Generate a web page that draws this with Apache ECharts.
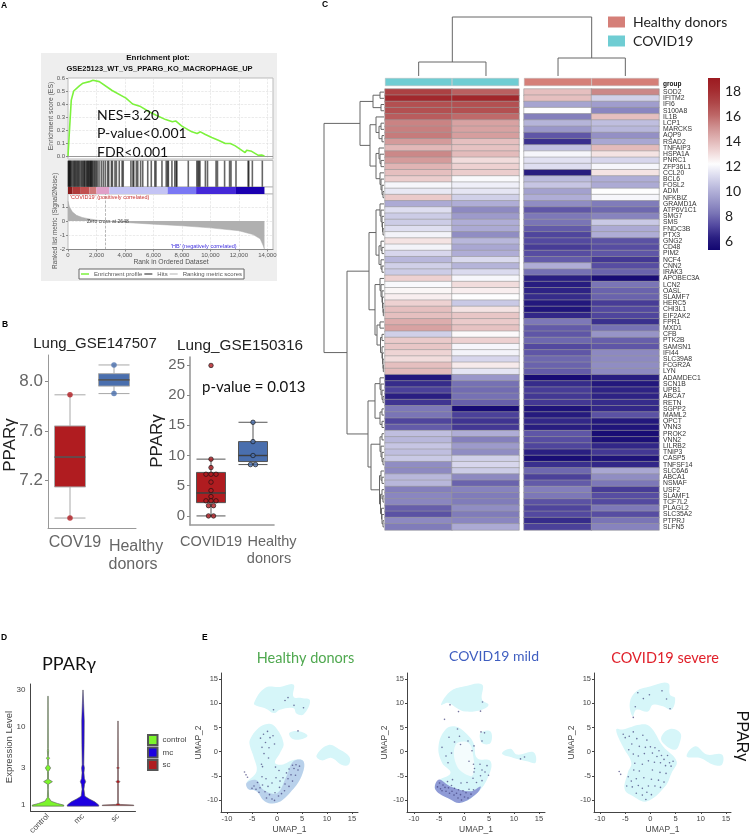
<!DOCTYPE html>
<html style="width:100%;height:100%">
<head>
    <meta charset="UTF-8">
    <title>PPARg panels</title>
    <script type="text/javascript" src="https://cdn.jsdelivr.net/npm/echarts@6/dist/echarts.min.js"></script>
</head>
<body style="margin:0;width:100%;height:100%;overflow:hidden;background:#fff">
    <div id="main" style="width:750px;height:839px"></div>

    <script type="text/javascript">
        // panel A: enrichment plot
        var esCurve = [[0,0],[115,0.22],[230,0.43],[400,0.5],[800,0.54],[1050,0.56],[1500,0.572],[1750,0.583],[2200,0.572],[3100,0.504],[4070,0.445],[4540,0.4],[5100,0.38],[5700,0.34],[6160,0.315],[6860,0.28],[7330,0.264],[7560,0.27],[8000,0.23],[8700,0.186],[9070,0.173],[9300,0.186],[9650,0.165],[10100,0.142],[10600,0.12],[11050,0.096],[11400,0.096],[11750,0.078],[12440,0.026],[12550,0.044],[12900,0.036],[13370,0.005],[13600,0.008],[13800,0]];
        var hitRanks = [30,60,100,140,190,240,330,400,470,520,600,660,730,790,880,960,1020,1100,1150,1200,1290,1340,1400,1440,1500,1550,1600,1640,1690,1750,1830,1900,1980,2060,2180,2340,2480,2620,2780,2860,3050,3120,3300,3400,3600,3800,3880,4420,4560,4620,4800,4900,5100,5250,5600,5850,6100,6180,6600,6900,7000,7050,7300,7500,7600,7650,8450,9050,9130,9200,9270,9650,9800,10400,10500,11000,11350,11450,11800,12650,12700,12950,13650];
        var rankBands = [[0,300],[300,900],[900,1500],[1500,2000],[2000,2900],[2900,7000],[7000,9000],[9000,11800],[11800,13800]];
        var rankBandColors = ['#8a1c1c','#b03a3a','#c25050','#cf7878','#e0a0c8','#c4c4f4','#7a78f4','#4428d8','#1a00b0'];
        var rankMetric = [[0,1.4],[100,1],[300,0.65],[600,0.4],[1000,0.25],[1500,0.15],[2000,0.07],[2648,0],[4000,-0.1],[6000,-0.22],[8000,-0.33],[10000,-0.48],[12000,-0.68],[13000,-0.95],[13500,-1.25],[13700,-1.7],[13800,-2]];
        var rankTicks = [0,2000,4000,6000,8000,10000,12000,14000];

        // panel B: [min, q1, median, q3, max]
        var gse147507Cats = ['COV19','Healthy donors'];
        var gse147507Boxes = [[6.9,7.15,7.39,7.64,7.89],[7.9,7.96,8.01,8.06,8.13]];
        var gse147507Points = [[0,7.89],[0,6.9],[1,8.13],[1,7.9]];
        var gse150316Cats = ['COVID19','Healthy donors'];
        var gse150316Boxes = [[0,2.2,3.8,7.2,9.4],[8.5,9,10,12.3,15.5]];
        var gse150316CovidPoints = [[0,24.9],[0,9.4],[0,8],[-0.12,6.9],[0,6.9],[0.12,6.9],[0,5.6],[0,4.2],[0,3.2],[-0.12,2.5],[0,2.5],[0.12,2.5],[-0.06,1.7],[0.06,1.7],[-0.06,0],[0.06,0]];
        var gse150316HealthyPoints = [[1,15.5],[1,12.3],[1,10],[0.94,8.5],[1.06,8.5]];

        // panel C: heatmap
        var genes = ['SOD2','IFITM2','IFI6','S100A8','IL1B','LCP1','MARCKS','AQP9','RSAD2','TNFAIP3','HSPA1A','PNRC1','ZFP36L1','CCL20','BCL6','FOSL2','ADM','NFKBIZ','GRAMD1A','ATP6V1C1','SMG7','SMS','FNDC3B','PTX3','GNG2','CD48','PIM2','NCF4','CNN2','IRAK3','APOBEC3A','LCN2','OASL','SLAMF7','HERC5','CHI3L1','EIF2AK2','FPR1','MXD1','CFB','PTK2B','SAMSN1','IFI44','SLC39A8','FCGR2A','LYN','ADAMDEC1','SCN1B','UPB1','ABCA7','RETN','SGPP2','MAML2','QPCT','VNN3','PROK2','VNN2','LILRB2','TNIP3','CASP5','TNFSF14','SLC6A6','ABCA1','NSMAF','USF2','SLAMF1','TCF7L2','PLAGL2','SLC35A2','PTPRJ','SLFN5'];
        var covidSample1 = [17.5,18.5,17,17,16.6,15.6,15.7,15.8,15,14.2,15.5,15,14.3,14,13.6,12.1,11.7,13.7,9.9,11.4,10.9,10.9,11.4,12,13,12,11.2,10.3,11,10.9,13.5,12.2,12.5,12.7,13.5,14,14,14.5,14.8,11,13.7,13.8,13.4,13.2,14,14.1,6,6.6,7.1,6.3,6.8,8.4,8.3,7.2,7.7,10.5,10.3,10.7,10.5,10.8,9,8.9,10.3,10.3,8.6,8.8,8.8,7.8,7.5,8.9,8.5];
        var covidSample2 = [16.5,18.6,17,17,16.2,14.8,14.8,14.9,14,13.9,14.1,13.2,13.5,13.6,12.2,11.9,11.6,11,10,8.9,9.4,10,9.9,9,10.3,9.8,10,11.3,10.2,11.3,12.1,13.2,12.7,12.3,10.8,13,13.8,13.7,13.9,12.4,13.5,12.1,12,11.2,12.8,11.6,9.3,8.2,8.1,8.2,7.8,5.5,7.1,6.8,6.9,10,8.6,9.4,9,11,11.2,10.9,8.9,7.9,8.7,8.5,8.5,9,8.5,8.8,9.9];
        var healthySample1 = [14,14,9.7,12.3,8.6,10.2,9.3,7.6,6.7,10.6,12.1,11.5,11.4,6.2,10.4,10.7,9.6,10,9,7.6,8.4,8.3,7.7,7.2,7.3,7,7.4,7.7,10,8.2,6.3,6.2,6.4,6.6,6,5.9,6.5,8.4,7.7,7.6,8,7.3,7.6,8,7.9,7.7,5.5,6.6,7,6.9,6.9,5.8,6.1,6.5,6.2,7.6,7.4,7.2,6.3,5.6,6.7,8,7.1,7.7,8.6,8.4,7.5,7.2,7.3,6.6,7.1];
        var healthySample2 = [15.5,11,9.5,8.8,14,10.5,10.3,9.1,9.8,14.1,13,11.2,12.1,13,10,9.9,12.3,12.1,8.5,8,8.7,10.8,9.9,10,7.5,7.4,7.6,6.9,7.4,7.9,5.6,8.3,7.9,7.9,7,7.3,7.2,6.7,8.2,9.2,7.8,7.6,8.9,8.9,9,8.9,6.2,6,6.4,6.4,6.6,6.5,7.5,6,5.9,5.6,5.7,6.5,6.9,5.8,6.5,9.8,9,8.4,7,7.4,7.3,8.4,7.4,8.3,8.7];
        var heatColors = ['#120670','#2a1f82','#5349a0','#7a75b6','#9a97c9','#b8b7db','#dadaee','#fdfdfe','#f0d8d8','#e0b4b4','#cf9090','#bd6666','#ae4648','#a42c30','#9c1a20'];
        var colorbarTicks = [6,8,10,12,14,16,18];

        // dendrograms: node = [height, left, right], leaf = row or column number
        var columnTree = [59,[14,0,1],[18,2,3]];
        var rowTree = [60,
            [24,
                [11,[4,0,1],[3,2,3]],
                [14,
                    [8,4,[5,[3,5,6],[2,7,8]]],
                    [8,[5,9,[4,10,[3,11,12]]],[4,13,[3,14,[2,15,[1,16,17]]]]]
                ]
            ],
            [37,
                [15,
                    [8,
                        [4,18,[3,19,[2,20,[1.5,21,[1,22,23]]]]],
                        [5,[3,24,[2,25,26]],[3,27,[2,28,29]]]
                    ],
                    [9,
                        [4,30,[3,31,[2,32,[1.5,33,[1,34,[0.7,35,36]]]]]],
                        [7,[4,37,38],[3.5,[2,39,40],[2,41,[1.5,42,[1,43,[0.7,44,45]]]]]]
                    ]
                ],
                [16,
                    [9,
                        [4,46,[3,47,[2,48,[1,49,50]]]],
                        [4,[2,51,52],[2,53,54]]
                    ],
                    [13,
                        [4,[2,55,56],[3,57,[2,58,[1,59,60]]]],
                        [4.5,[3,61,[2,62,63]],[3.5,[2,64,[1,65,66]],[2.5,67,[2,68,[1,69,70]]]]]
                    ]
                ]
            ]
        ];
        var columnLeafPositions = [0.5,1.5,2.57,3.57];

        // panel D: violin outlines, [expression, relative half width]
        var violinCats = ['control','mc','sc'];
        var controlViolin = [[0.97,1],[1,1],[1.05,0.6],[1.12,0.2],[1.25,0.04],[1.6,0.02],[1.85,0.03],[2,0.28],[2.15,0.03],[2.7,0.03],[3,0.17],[3.3,0.02],[3.8,0.02],[4,0.1],[4.2,0.02],[5,0.04],[5.3,0.02],[25,0.01]];
        var mcViolin = [[0.97,1],[1,1],[1.1,0.75],[1.2,0.4],[1.3,0.12],[1.6,0.06],[1.85,0.1],[2,0.17],[2.2,0.09],[2.6,0.06],[3,0.09],[3.3,0.05],[6,0.07],[12,0.08],[20,0.04],[30,0.005]];
        var scViolin = [[0.985,1],[1,1],[1.02,0.15],[1.05,0.02],[1.9,0.02],[2,0.12],[2.1,0.02],[2.9,0.02],[3,0.08],[3.1,0.02],[12,0.01]];

        // panel E: outlines of the cell clouds and the positive cells
        var healthyClouds = [
            [[-4.6,10.1],[-2.4,13.2],[0.6,13.4],[3.3,13.9],[3.3,11.4],[4.9,11.1],[6.6,10.6],[5.3,7.7],[3.9,7.9],[3.3,9],[0.6,8.7],[-0.6,8],[-2.4,9],[-4.1,9.5]],
            [[2.5,3.9],[4.6,4.2],[6.1,3.3],[4.6,2.5],[2.9,2.8]],
            [[7.9,-0.8],[10.3,1.4],[12.6,0.4],[14.5,-1.1],[14.3,-2.7],[12.9,-2.7],[10.9,-1.3],[8.9,-1.8]],
            [[-5.4,2.5],[-3.7,4.9],[-1.7,5.8],[-0.4,5.2],[1.3,1.8],[0.6,-0.3],[-0.4,-2.3],[0.9,-2.7],[3.3,-1.7],[5.3,-2],[4.9,-5.1],[2.6,-8.5],[0,-10.6],[-2.4,-10.3],[-4.1,-8.2],[-5.7,-7.8],[-6.1,-6.5],[-4.1,-4.1],[-4.7,-1],[-5.4,1.1]]
        ];
        var healthyDense = [[-6.1,-6.5],[-4.1,-5.9],[-2.7,-7.9],[0,-8.6],[1.9,-5.1],[3.3,-2],[5.3,-2],[4.9,-5.1],[2.6,-8.5],[0,-10.6],[-2.4,-10.3],[-4.1,-8.2],[-5.7,-7.8]];
        var healthyDots = [[1.6,10.6],[-0.7,8.7],[2.2,11.2],[5.3,9.1],[3.4,9.6],[4.2,4.3],[-3.3,2.8],[-2.7,3.6],[-1.9,4.2],[-1.4,2.9],[-0.8,3.3],[-2.3,1.9],[-3,0.9],[-1.6,0.8],[-0.5,1.6],[-2.6,-0.4],[-1.7,-1.3],[-3.1,-2.6],[-2.9,-3.1],[-0.3,-3.2],[0.4,-3.9],[-6.5,-4.2],[-6.2,-4.8],[-5.9,-5.3],[3.1,-2.8],[3.8,-2.7],[4.5,-3],[3.4,-3.5],[4.2,-3.8],[2.4,-3.6],[1.9,-4.4],[2.8,-4.8],[3.7,-4.9],[1.2,-5.4],[2.2,-5.6],[3.1,-6.1],[0.6,-6.1],[1.6,-6.7],[2.4,-7.2],[-3.9,-6.4],[-4.6,-7.1],[-5,-7.6],[-4.2,-7.8],[-3.4,-7.5],[-3.6,-8.4],[-2.9,-6.9],[-2.4,-8.3],[-1.8,-7.2],[-1.5,-8.9],[-2.1,-9.6],[-1,-9.8],[-0.4,-8.5],[0.3,-9.2],[0.9,-8.7],[-0.5,-10.1],[0.5,-7.4],[1.5,-8.1],[-1,-6.5],[-2.2,-5.6],[-0.2,-5.4],[-3,-5.2]];
        var mildClouds = [
            [[-4.6,9.7],[-2.7,12.5],[-0.1,13.5],[3.6,13.9],[3.6,10.8],[4.9,9.7],[3.6,8.7],[0.3,8.3],[-1.4,9],[-3.1,10.1]],
            [[7.6,-0.4],[9.3,0.6],[10.6,-0.6],[13.9,-0.1],[14.3,-2.3],[12.6,-2],[9.9,-1.3]],
            [[3.3,3.9],[5.3,4.2],[5.3,1.8],[3.6,1.8]],
            [[-5.1,1.1],[-3.7,4.6],[-1.7,5.2],[0.3,3.9],[1.9,1.8],[2.6,-1.3],[5.3,-2],[4.9,-5.1],[2.6,-8.6],[-0.7,-10.6],[-2.7,-9.9],[-5.7,-7.9],[-5.4,-6.2],[-2.7,-4.4],[-4.4,-2.3]]
        ];
        var mildHole = [[-1.7,1.4],[0.9,1.8],[1.9,-1.3],[1.9,-4.4],[1.3,-5.1],[-1.4,-3]];
        var mildDense = [[-5.7,-7.9],[-5.1,-5.8],[-2.7,-7.2],[1.3,-8.2],[3.3,-7.2],[2.6,-8.6],[-0.7,-10.6],[-2.7,-9.9]];
        var mildDots = [[-2.8,9.7],[-1.1,8.3],[3.3,8.4],[3.7,10.3],[-3.9,6.7],[-1.3,4.7],[-0.9,3.2],[-3,3],[-1.9,2],[-0.7,1.5],[-4.4,0.9],[-3.6,-0.9],[-2.5,-0.3],[0.8,2.2],[1.6,0.2],[2,1.2],[3.4,4.1],[4.1,3.9],[3.6,2.2],[-3.2,-2.3],[1,-2],[1.9,-2.6],[2.1,-3.5],[2,-4.2],[3.2,-2.6],[4.6,-2.9],[3.6,-3.8],[4.2,-4.2],[4.9,-4.9],[3.3,-5],[1.8,-5.5],[2.5,-6.4],[3.6,-6],[11.3,-1.5],[12.1,-1.1],[-5.3,-7.3],[-4.9,-6.5],[-4.7,-7.7],[-4.2,-6.9],[-4.4,-8.1],[-3.8,-7.4],[-3.6,-8.2],[-3.3,-6.2],[-3.1,-7.5],[-2.9,-8.6],[-2.5,-7],[-2.4,-8.2],[-2,-9],[-1.9,-7.6],[-1.5,-8.6],[-1.2,-9.6],[-1.1,-7.9],[-0.7,-8.9],[-0.5,-10],[-0.2,-8.1],[0.1,-9.4],[0.4,-8.5],[0.8,-9.6],[1,-7.8],[1.4,-8.8],[1.9,-7.9],[-2.3,-5.8],[-0.6,-6.5],[0.6,-6.4]];
        var severeClouds = [
            [[-3.5,7.3],[-4.1,10.1],[-2.8,12.5],[-0.1,13.5],[3.5,14.2],[3.9,11.8],[4.9,11.1],[4.2,8.7],[2.5,9.4],[0.5,9.7],[-0.5,8.3],[-2.8,8.7]],
            [[-6.8,4.6],[-5.5,4.6],[-2.1,5.6],[-0.1,5.2],[2.5,1.1],[5.2,-2],[4.2,-4.4],[2.9,-7.2],[-0.8,-10.3],[-3.5,-9.2],[-5.1,-7.8],[-4.5,-4.4],[-3.8,-2.3],[-5.5,1.1]],
            [[2.2,3.2],[3.9,4.7],[5.9,3.9],[5.9,2.1],[4.9,0.4],[2.5,1.8]],
            [[7.2,-1],[8.9,1.1],[11.2,-0.6],[14.2,-0.6],[14.2,-2.7],[12.5,-2.7],[9.9,-1.3]]
        ];
        var severeDots = [[-2.5,12.2],[-1.4,11],[-0.2,11.8],[2.3,12.6],[3.2,10.9],[-3,9.3],[3.9,8.9],[-3.4,7.1],[-5.4,3.6],[-5,2.9],[-4.2,3.2],[-3.4,4.1],[-2.7,2.7],[-3.7,1.6],[-2.2,1.1],[-1.5,3.4],[-0.7,2.4],[-1,0.9],[-4.3,0.4],[-3.4,-0.5],[-2.4,-0.9],[-1.2,-0.4],[0,1],[0.4,-0.3],[0.9,0.8],[1.7,0.2],[1.3,-1],[2.2,-0.8],[2.7,-1.6],[3.4,-0.8],[3.8,-2.3],[4.5,-2],[4.1,-3],[3,-2.9],[2,-2.3],[0.8,-2.2],[-0.4,-1.9],[-3.1,-2.4],[-1.6,-2.6],[-3.3,-3.8],[-2.2,-4],[0.4,-3.8],[1.9,-4.3],[3.1,-4.5],[-4.4,-5.2],[-3.8,-6.1],[-2.8,-5.6],[-1.3,-5.4],[0.2,-5.7],[1.6,-5.9],[2.7,-6.3],[-4.7,-7.1],[-3.6,-7.3],[-2.4,-7],[-1.6,-7.6],[-0.4,-7.1],[0.9,-7.1],[2,-7.4],[-2.8,-8.6],[-1.6,-9],[-0.7,-8.4],[0.2,-8.9],[-0.9,-9.9],[-6.2,-4.1],[-5.9,-4.7]];
        var umapXTicks = [-10,-5,0,5,10,15];
        var umapYTicks = [-10,-5,0,5,10,15];

        var SANS = 'Liberation Sans';
        var HUMAN = 'Lato';
        var grids = [], xAxes = [], yAxes = [], series = [], texts = [];

        function addGrid(box, x, y) {
            grids.push(box);
            x.gridIndex = grids.length - 1;
            y.gridIndex = grids.length - 1;
            xAxes.push(x);
            yAxes.push(y);
            return { xAxisIndex: xAxes.length - 1, yAxisIndex: yAxes.length - 1, grid: grids.length - 1 };
        }
        function hiddenValue(min, max, inverse) {
            return { type: 'value', min: min, max: max, inverse: !!inverse, show: false };
        }
        function label(x, y, str, size, color, extra) {
            var o = extra || {};
            texts.push({ type: 'text', z: 50, rotation: o.rot || 0, x: x, y: y, silent: true,
                style: { x: 0, y: 0, text: str, fontSize: size, fontFamily: o.fontFamily || SANS, fontWeight: o.fontWeight || 'normal', fill: color || '#000', align: o.align || 'center', verticalAlign: 'middle' } });
        }
        function drawSegment(params, api) {
            var a = api.coord([api.value(0), api.value(1)]);
            var b = api.coord([api.value(2), api.value(3)]);
            return { type: 'line', shape: { x1: a[0], y1: a[1], x2: b[0], y2: b[1] }, style: { stroke: '#666', lineWidth: 1 } };
        }
        // flatten a dendrogram into line segments; returns the node's position
        function treeSegments(node, leafPos, out) {
            if (typeof node === 'number') { return { pos: leafPos(node), h: 0 }; }
            var l = treeSegments(node[1], leafPos, out);
            var r = treeSegments(node[2], leafPos, out);
            out.push([l.pos, l.h, l.pos, node[0]], [r.pos, r.h, r.pos, node[0]], [l.pos, node[0], r.pos, node[0]]);
            return { pos: (l.pos + r.pos) / 2, h: node[0] };
        }

        /* ---------- A ---------- */
        var aLeft = 68, aWidth = 205;
        function aBox(top, height) { return { left: aLeft, width: aWidth, top: top, height: height, show: true, backgroundColor: '#fff', borderColor: '#bbb', borderWidth: 1 }; }
        var aDash = { show: true, lineStyle: { color: '#ddd', type: 'dashed', width: 0.6 } };
        var aTickLabel = { fontSize: 6, color: '#555', fontFamily: SANS, margin: 3 };

        var esAxes = addGrid(aBox(78, 81),
            { type: 'value', min: 0, max: 14400, axisLabel: { show: false }, axisLine: { show: false }, splitLine: aDash, axisTick: { show: false, customValues: rankTicks } },
            { type: 'value', min: -0.023, max: 0.6, axisLabel: Object.assign({ customValues: [0,0.1,0.2,0.3,0.4,0.5,0.6], formatter: function (v) { return v.toFixed(1); } }, aTickLabel), axisTick: { length: 2, customValues: [0,0.1,0.2,0.3,0.4,0.5,0.6], lineStyle: { color: '#888' } }, axisLine: { show: false }, splitLine: aDash });
        series.push(Object.assign({ name: 'Enrichment profile', type: 'line', data: esCurve, showSymbol: false, lineStyle: { color: '#7cf23c', width: 1.6 }, itemStyle: { color: '#7cf23c' }, z: 5,
            markLine: { silent: true, symbol: 'none', label: { show: false }, lineStyle: { color: '#999', type: 'solid', width: 1 }, data: [{ yAxis: 0 }] } }, esAxes));

        var hitAxes = addGrid(aBox(160.5, 26.5), hiddenValue(0, 14400), hiddenValue(0, 1));
        series.push(Object.assign({ name: 'Hits', type: 'scatter', data: hitRanks.map(function (r) { return [r, 0.5]; }), symbol: 'rect', symbolSize: [1.6, 26], itemStyle: { color: '#000', opacity: 0.6 } }, hitAxes));

        var bandAxes = addGrid(aBox(187, 7), hiddenValue(0, 14400), hiddenValue(0, 1));
        series.push(Object.assign({ type: 'custom', silent: true, data: rankBands.map(function (b, i) { return [b[0], b[1], i]; }), encode: { x: [0, 1] },
            renderItem: function (params, api) {
                var a = api.coord([api.value(0), 0]), b = api.coord([api.value(1), 1]);
                return { type: 'rect', shape: { x: a[0], y: b[1], width: b[0] - a[0], height: a[1] - b[1] }, style: { fill: rankBandColors[api.value(2)] } };
            } }, bandAxes));

        var rankAxes = addGrid(aBox(194, 55.5),
            { type: 'value', min: 0, max: 14400, axisLine: { onZero: false, lineStyle: { color: '#888' } }, axisTick: { length: 2, customValues: rankTicks, lineStyle: { color: '#888' } }, splitLine: aDash,
              axisLabel: Object.assign({ customValues: rankTicks, formatter: function (v) { return v === 0 ? '0' : (v / 1000) + ',000'; } }, aTickLabel) },
            { type: 'value', min: -2, max: 1.9, axisLabel: Object.assign({ customValues: [-2,-1,0,1] }, aTickLabel), axisTick: { length: 2, customValues: [-2,-1,0,1], lineStyle: { color: '#888' } }, axisLine: { show: false }, splitLine: aDash });
        series.push(Object.assign({ name: 'Ranking metric scores', type: 'line', data: rankMetric, showSymbol: false, lineStyle: { width: 0.5, color: '#aaa' }, itemStyle: { color: '#ccc' }, areaStyle: { origin: 0, color: '#b0b0b0', opacity: 1 },
            markLine: { silent: true, symbol: 'none', label: { show: false }, lineStyle: { color: '#999', type: 'dashed', width: 0.7 }, data: [{ xAxis: 2648 }] } }, rankAxes));

        label(158, 58, 'Enrichment plot:', 8, '#111', { fontWeight: 'bold' });
        label(159.5, 68.5, 'GSE25123_WT_VS_PPARG_KO_MACROPHAGE_UP', 7.5, '#111', { fontWeight: 'bold' });
        label(97, 115, 'NES=3.20', 14, '#111', { fontFamily: HUMAN, align: 'left' });
        label(97, 133.5, 'P-value<0.001', 14, '#111', { fontFamily: HUMAN, align: 'left' });
        label(97, 152.5, 'FDR<0.001', 14, '#111', { fontFamily: HUMAN, align: 'left' });
        label(51, 116, 'Enrichment score (ES)', 6.8, '#555', { rot: Math.PI / 2 });
        label(55, 221, 'Ranked list metric (Signal2Noise)', 6.5, '#555', { rot: Math.PI / 2 });
        label(171, 262.5, 'Rank in Ordered Dataset', 6.8, '#555');
        label(70, 197.5, "'COVID19' (positively correlated)", 5.5, '#c83030', { align: 'left' });
        label(171, 246, "'HB' (negatively correlated)", 5.5, '#4030e0', { align: 'left' });
        label(87, 222, 'Zero cross at 2648', 5, '#444', { align: 'left' });

        /* ---------- B ---------- */
        function boxGrid(box, cats, yMin, yMax, yTicks, fmt, ySize, axisWidth) {
            var ids = addGrid(box,
                { type: 'category', data: cats, axisTick: { length: 4, alignWithLabel: true, lineStyle: { color: '#888' } }, axisLine: { onZero: false, lineStyle: { color: '#999', width: axisWidth } },
                  axisLabel: { show: false } },
                { type: 'value', min: yMin, max: yMax, splitLine: { show: false }, axisLine: { show: true, onZero: false, lineStyle: { color: '#999', width: axisWidth } }, axisTick: { length: 3, customValues: yTicks, lineStyle: { color: '#888' } },
                  axisLabel: { customValues: yTicks, formatter: fmt, fontSize: ySize, color: '#666', fontFamily: SANS, margin: 5 } });
            // hidden value axis in the same grid so points can sit off the box centre
            xAxes.push({ type: 'value', gridIndex: ids.grid, min: -0.5, max: 1.5, show: false });
            ids.pointX = xAxes.length - 1;
            return ids;
        }
        function addBoxes(ids, boxes, colors, width, whisker, medianWidth) {
            series.push({ type: 'boxplot', xAxisIndex: ids.xAxisIndex, yAxisIndex: ids.yAxisIndex, silent: true, boxWidth: [width, width],
                data: boxes.map(function (b, i) { return { value: b, itemStyle: { color: colors[i], borderColor: whisker, borderWidth: 1 } }; }) });
            series.push({ type: 'scatter', xAxisIndex: ids.pointX, yAxisIndex: ids.yAxisIndex, silent: true, symbol: 'rect', symbolSize: [medianWidth, 1.5], z: 4,
                data: boxes.map(function (b, i) { return [i, b[2]]; }), itemStyle: { color: '#3a3a3a' } });
        }
        var box1 = boxGrid({ left: 48, width: 88, top: 355, height: 173 }, gse147507Cats, 6.82, 8.21, [7.2,7.6,8.0], function (v) { return v.toFixed(1); }, 17, 1);
        addBoxes(box1, gse147507Boxes, ['#b01c20','#4a6fae'], 31, '#a8a8a8', 31);
        series.push({ type: 'scatter', xAxisIndex: box1.pointX, yAxisIndex: box1.yAxisIndex, silent: true, symbolSize: 5.5, z: 5,
            data: gse147507Points, itemStyle: { color: function (p) { return p.data[0] === 0 ? '#b01c20' : '#4a6fae'; } } });

        var box2 = boxGrid({ left: 190, width: 84, top: 357, height: 168 }, gse150316Cats, -1.5, 26.3, [0,5,10,15,20,25], null, 15, 1.6);
        addBoxes(box2, gse150316Boxes, ['#b01c20','#4a6fae'], 29, '#555', 29);
        series.push({ type: 'scatter', xAxisIndex: box2.pointX, yAxisIndex: box2.yAxisIndex, silent: true, symbolSize: 4.5, z: 5,
            data: gse150316CovidPoints, itemStyle: { color: '#b01c20', borderColor: '#111', borderWidth: 0.8 } });
        series.push({ type: 'scatter', xAxisIndex: box2.pointX, yAxisIndex: box2.yAxisIndex, silent: true, symbolSize: 4.5, z: 5,
            data: gse150316HealthyPoints, itemStyle: { color: '#4a6fae', borderColor: '#111', borderWidth: 0.8 } });
        label(95, 344, 'Lung_GSE147507', 15, '#222');
        label(240, 346, 'Lung_GSE150316', 15.3, '#222');
        label(10, 445, 'PPARγ', 17, '#222', { rot: Math.PI / 2 });
        label(157, 441, 'PPARγ', 17, '#222', { rot: Math.PI / 2 });
        label(202, 387.5, 'p-value = 0.013', 15, '#111', { fontFamily: HUMAN, align: 'left' });
        // the category labels sit right of their ticks in the original, so they are placed by hand
        label(75, 543, gse147507Cats[0], 16, '#666');
        label(136, 547, 'Healthy', 16, '#666');
        label(133, 565, 'donors', 16, '#666');
        label(211, 542, gse150316Cats[0], 14.5, '#666');
        label(272, 542, 'Healthy', 14.5, '#666');
        label(269, 559, 'donors', 14.5, '#666');

        /* ---------- C ---------- */
        var topSegs = [], leftSegs = [];
        treeSegments(columnTree, function (i) { return columnLeafPositions[i]; }, topSegs);
        treeSegments(rowTree, function (i) { return i + 0.5; }, leftSegs);
        var topAxes = addGrid({ left: 385, width: 274, top: 17, height: 59 }, hiddenValue(0, 4.07), hiddenValue(0, 59));
        series.push(Object.assign({ type: 'custom', silent: true, data: topSegs, encode: { x: [0, 2], y: [1, 3] }, renderItem: drawSegment }, topAxes));

        var leftAxes = addGrid({ left: 324, width: 60, top: 89, height: 441 }, hiddenValue(0, 60, true), hiddenValue(0, 71, true));
        series.push(Object.assign({ type: 'custom', silent: true, data: leftSegs.map(function (s) { return [s[1], s[0], s[3], s[2]]; }), encode: { x: [0, 2], y: [1, 3] }, renderItem: drawSegment }, leftAxes));

        function sampleAxis() { return { type: 'category', data: ['1','2'], show: false }; }
        var groupLeft = addGrid({ left: 385, width: 134, top: 78, height: 8 }, sampleAxis(), hiddenValue(0, 1));
        var groupRight = addGrid({ left: 524, width: 135, top: 78, height: 8 }, sampleAxis(), hiddenValue(0, 1));
        var groupBorder = { borderColor: '#bbb', borderWidth: 0.5 };
        series.push(Object.assign({ name: 'COVID19', type: 'bar', data: [1, 1], barWidth: '100%', silent: true, itemStyle: Object.assign({ color: '#6fcdd3' }, groupBorder) }, groupLeft));
        series.push(Object.assign({ name: 'Healthy donors', type: 'bar', data: [1, 1], barWidth: '100%', silent: true, itemStyle: Object.assign({ color: '#d57f78' }, groupBorder) }, groupRight));
        label(663, 84.5, 'group', 6.5, '#111', { align: 'left', fontWeight: 'bold' });

        function geneAxis(show) {
            return { type: 'category', data: genes, inverse: true, position: 'right', show: show, axisLine: { show: false }, axisTick: { show: false },
                axisLabel: { interval: 0, fontSize: 6.8, color: '#333', fontFamily: SANS, margin: 4 } };
        }
        var heatLeft = addGrid({ left: 385, width: 134, top: 89, height: 441 }, sampleAxis(), geneAxis(false));
        var heatRight = addGrid({ left: 524, width: 135, top: 89, height: 441 }, sampleAxis(), geneAxis(true));
        function cells(a, b) {
            var out = [];
            genes.forEach(function (g, i) { out.push([0, i, a[i]], [1, i, b[i]]); });
            return out;
        }
        var cellStyle = { borderColor: '#999', borderWidth: 0.6 };
        var heatSeriesIdx = [series.length, series.length + 1];
        series.push(Object.assign({ type: 'heatmap', silent: true, data: cells(covidSample1, covidSample2), itemStyle: cellStyle }, heatLeft));
        series.push(Object.assign({ type: 'heatmap', silent: true, data: cells(healthySample1, healthySample2), itemStyle: cellStyle }, heatRight));

        // colour bar, filled with the same ramp as the heatmap
        var barStops = heatColors.slice().reverse().map(function (c, i) { return { offset: i / (heatColors.length - 1), color: c }; });
        var barAxes = addGrid({ left: 708, width: 12, top: 78, height: 172 }, hiddenValue(0, 1),
            { type: 'value', position: 'right', min: 5.3, max: 19.1, splitLine: { show: false }, axisLine: { show: false }, axisTick: { show: false },
              axisLabel: { customValues: colorbarTicks, fontSize: 14, color: '#222', fontFamily: HUMAN, margin: 5 } });
        series.push(Object.assign({ type: 'custom', silent: true, data: [[0, 5.3, 19.1]], encode: { y: [1, 2] },
            renderItem: function (params, api) {
                var a = api.coord([0, api.value(1)]), b = api.coord([1, api.value(2)]);
                return { type: 'rect', shape: { x: a[0], y: b[1], width: b[0] - a[0], height: a[1] - b[1] },
                    style: { fill: new echarts.graphic.LinearGradient(0, 0, 0, 1, barStops) } };
            } }, barAxes));

        /* ---------- D ---------- */
        var violinProfiles = [controlViolin, mcViolin, scViolin];
        var violinColors = ['#7cf52c', '#1d00e0', '#b01c20'];
        var violinAxes = addGrid({ left: 30.5, width: 105, top: 684, height: 127 },
            { type: 'category', data: violinCats, axisLine: { onZero: false, lineStyle: { color: '#444' } }, axisTick: { length: 3, alignWithLabel: true, lineStyle: { color: '#444' } },
              axisLabel: { rotate: 45, fontSize: 8, color: '#444', fontFamily: SANS, interval: 0, margin: 4 } },
            { type: 'log', min: 0.84, max: 35.8, splitLine: { show: false }, axisLine: { show: true, lineStyle: { color: '#444' } }, axisTick: { length: 3, customValues: [1,3,10,30], lineStyle: { color: '#444' } },
              axisLabel: { customValues: [1,3,10,30], fontSize: 8, color: '#444', fontFamily: SANS, margin: 5 } });
        violinCats.forEach(function (c, k) {
            series.push(Object.assign({ name: c, type: 'custom', silent: true, data: [[k, 1]], itemStyle: { color: violinColors[k], borderColor: '#555', borderWidth: 1 },
                renderItem: function (params, api) {
                    var half = api.size([1, 0])[0] * 0.45;
                    var prof = violinProfiles[k], pts = [];
                    prof.forEach(function (p) { var o = api.coord([k, p[0]]); pts.push([o[0] + p[1] * half, o[1]]); });
                    prof.slice().reverse().forEach(function (p) { var o = api.coord([k, p[0]]); pts.push([o[0] - p[1] * half, o[1]]); });
                    return { type: 'polygon', shape: { points: pts }, style: { fill: violinColors[k], stroke: '#555', lineWidth: 0.6 } };
                } }, violinAxes));
        });
        label(69, 664, 'PPARγ', 18, '#111', { fontFamily: HUMAN });
        label(9, 747, 'Expression Level', 9.5, '#444', { rot: Math.PI / 2 });

        /* ---------- E ---------- */
        function umapPanel(left, width, xMin, xMax, clouds, dense, hole, dots, yLabelGap) {
            var ids = addGrid({ left: left, width: width, top: 673, height: 139 },
                { type: 'value', min: xMin, max: xMax, name: 'UMAP_1', nameLocation: 'middle', nameGap: 13, nameTextStyle: { fontSize: 8.5, color: '#444', fontFamily: SANS }, splitLine: { show: false },
                  axisLine: { onZero: false, lineStyle: { color: '#444' } }, axisTick: { length: 2, customValues: umapXTicks, lineStyle: { color: '#444' } },
                  axisLabel: { customValues: umapXTicks, fontSize: 7.5, color: '#444', fontFamily: SANS, margin: 3 } },
                { type: 'value', min: -12.5, max: 16.3, name: 'UMAP_2', nameLocation: 'middle', nameGap: yLabelGap, nameTextStyle: { fontSize: 8.5, color: '#444', fontFamily: SANS }, splitLine: { show: false },
                  axisLine: { show: true, onZero: false, lineStyle: { color: '#444' } }, axisTick: { length: 2, customValues: umapYTicks, lineStyle: { color: '#444' } },
                  axisLabel: { customValues: umapYTicks, fontSize: 7.5, color: '#444', fontFamily: SANS, margin: 3 } });
            var polys = clouds.map(function (c) { return { pts: c, fill: '#d6f6f9' }; });
            if (hole) { polys.push({ pts: hole, fill: '#f4fcfd' }); }
            if (dense) { polys.push({ pts: dense.pts, fill: dense.fill }); }
            series.push(Object.assign({ type: 'custom', silent: true, data: polys.map(function (p, i) { return [0, 0, i]; }),
                renderItem: function (params, api) {
                    var p = polys[api.value(2)];
                    return { type: 'polygon', shape: { points: p.pts.map(function (q) { return api.coord(q); }), smooth: 0.4 }, style: { fill: p.fill } };
                } }, ids));
            series.push(Object.assign({ type: 'scatter', silent: true, data: dots, symbolSize: 1.6, z: 4, itemStyle: { color: '#3c3a78', opacity: 0.7 } }, ids));
        }
        umapPanel(221, 137, -11.2, 16.2, healthyClouds, { pts: healthyDense, fill: 'rgba(125,130,205,0.32)' }, null, healthyDots, 17);
        umapPanel(407, 138, -11.4, 16.2, mildClouds, { pts: mildDense, fill: 'rgba(95,95,190,0.6)' }, mildHole, mildDots, 17);
        umapPanel(594, 137, -11.2, 16, severeClouds, null, null, severeDots, 17);
        label(305.5, 658, 'Healthy donors', 14.5, '#4fa84f', { fontFamily: HUMAN });
        label(494, 656, 'COVID19 mild', 14, '#3f5ec0', { fontFamily: HUMAN });
        label(665, 658, 'COVID19 severe', 14.5, '#e0202a', { fontFamily: HUMAN });
        label(741, 736, 'PPARγ', 16, '#111', { rot: -Math.PI / 2 });

        // panel letters
        label(1, 6, 'A', 8.5, '#000', { align: 'left', fontWeight: 'bold' });
        label(2, 325, 'B', 8.5, '#000', { align: 'left', fontWeight: 'bold' });
        label(322, 5, 'C', 8.5, '#000', { align: 'left', fontWeight: 'bold' });
        label(1, 638, 'D', 8.5, '#000', { align: 'left', fontWeight: 'bold' });
        label(202, 638, 'E', 8.5, '#000', { align: 'left', fontWeight: 'bold' });

        var myChart = echarts.init(document.getElementById('main'), null, { renderer: 'canvas' });
        var option = {
            animation: false,
            backgroundColor: '#fff',
            textStyle: { fontFamily: SANS },
            tooltip: { show: false },
            grid: grids,
            xAxis: xAxes,
            yAxis: yAxes,
            series: series,
            visualMap: { show: false, min: 5.3, max: 19.3, seriesIndex: heatSeriesIdx, inRange: { color: heatColors } },
            legend: [{
                data: ['Healthy donors', 'COVID19'], orient: 'vertical', left: 608, top: 15, itemWidth: 17, itemHeight: 11, itemGap: 5, padding: 0, selectedMode: false, icon: 'rect',
                itemStyle: { borderWidth: 0 },
                textStyle: { fontSize: 14, color: '#222', fontFamily: HUMAN, padding: [0, 0, 0, 3] }
            }, {
                data: [{ name: 'Enrichment profile', icon: 'rect' }, { name: 'Hits', icon: 'rect' }, { name: 'Ranking metric scores', icon: 'rect' }], orient: 'horizontal', left: 79, top: 269, itemWidth: 8, itemHeight: 1.5, itemGap: 2, padding: [2, 2], selectedMode: false,
                backgroundColor: '#fff', borderColor: '#666', borderWidth: 1, textStyle: { fontSize: 6, color: '#555', fontFamily: SANS }
            }, {
                data: violinCats, orient: 'vertical', left: 147, top: 734, itemWidth: 9.5, itemHeight: 10, itemGap: 0.5, padding: 0, selectedMode: false, icon: 'rect',
                textStyle: { fontSize: 8, lineHeight: 10, color: '#444', fontFamily: SANS }
            }],
            graphic: { elements: [{ type: 'rect', z: -1, silent: true, shape: { x: 41, y: 53, width: 236, height: 228 }, style: { fill: '#eeeeee' } }].concat(texts) }
        };
        myChart.setOption(option);
    </script>
</body>
</html>
